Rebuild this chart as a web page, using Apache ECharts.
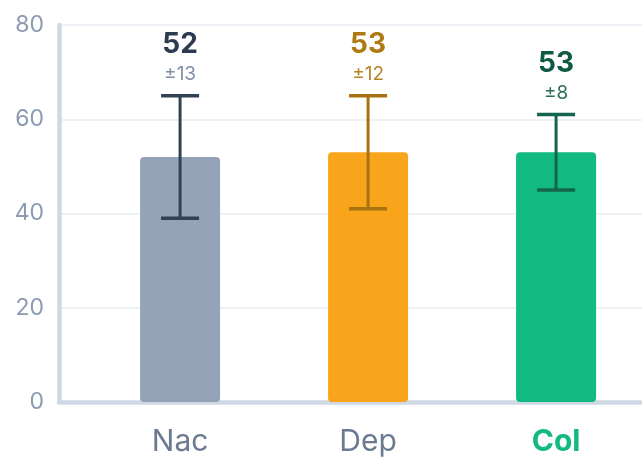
<!DOCTYPE html>
<html><head><meta charset="utf-8">
<script src="https://cdn.jsdelivr.net/npm/echarts@6/dist/echarts.min.js"></script>
<style>html,body{margin:0;padding:0;background:#fff}#c{width:642px;height:459px}</style>
</head><body><div id="c"></div>
<script>
const categories = ['Nac', 'Dep', 'Col'];
const means = [52, 53, 53];
const sds = [13, 12, 8];
const yTicks = [0, 20, 40, 60, 80];
const barColors = ['#94a3b8', '#f9a51b', '#12b981'];
const errColors = ['#334155', '#a8720f', '#13664c'];
const valueColors = ['#2d3a4f', '#b07a12', '#0f5a44'];
const sdColors = ['#7f8fa6', '#b88424', '#2c6d58'];
const FONT = 'Inter, "Noto Sans", sans-serif';

const chart = echarts.init(document.getElementById('c'));
chart.setOption({
  animation: false,
  backgroundColor: '#fff',
  grid: { left: 59, right: 0, top: 25, bottom: 57 },
  xAxis: {
    type: 'value', min: -0.644, max: 2.457,
    axisLine: { show: true, onZero: false, lineStyle: { color: '#cfd9e5', width: 4.5 } },
    axisTick: { show: false },
    splitLine: { show: false },
    axisLabel: {
      customValues: categories.map((c, i) => i),
      margin: 25,
      formatter: v => {
        const n = categories[Math.round(v)];
        return n === 'Col' ? '{hl|' + n + '}' : '{n|' + n + '}';
      },
      rich: {
        n: { fontFamily: FONT, fontSize: 30, color: '#6b7a90' },
        hl: { fontFamily: FONT, fontSize: 30, fontWeight: 'bold', color: '#12b981' }
      }
    }
  },
  yAxis: {
    type: 'value', min: yTicks[0], max: yTicks[yTicks.length - 1], interval: 20,
    axisLine: { show: true, onZero: false, lineStyle: { color: '#cfd9e5', width: 4.5 } },
    axisTick: { show: false },
    splitLine: { show: true, lineStyle: { color: '#eef2f7', width: 2 } },
    axisLabel: { fontFamily: FONT, fontSize: 23, color: '#8a9bb2', margin: 15 }
  },
  series: [
    {
      type: 'bar', barWidth: 80,
      data: means.map((m, i) => ({ value: [i, m], itemStyle: { color: barColors[i], borderRadius: 4 } }))
    },
    {
      type: 'custom', z: 5,
      encode: { x: 0, y: 1 },
      data: means.map((m, i) => [i, m, sds[i]]),
      renderItem: (params, api) => {
        const i = api.value(0), m = api.value(1), sd = api.value(2);
        const top = api.coord([i, m + sd]);
        const bot = api.coord([i, m - sd]);
        const c = errColors[i], hw = 19;
        return {
          type: 'group', children: [
            { type: 'line', shape: { x1: top[0], y1: top[1], x2: bot[0], y2: bot[1] }, style: { stroke: c, lineWidth: 3 } },
            { type: 'line', shape: { x1: top[0] - hw, y1: top[1], x2: top[0] + hw, y2: top[1] }, style: { stroke: c, lineWidth: 3.5 } },
            { type: 'line', shape: { x1: bot[0] - hw, y1: bot[1], x2: bot[0] + hw, y2: bot[1] }, style: { stroke: c, lineWidth: 3.5 } },
            { type: 'text', x: top[0], y: top[1] - 51, style: { text: String(m), fill: valueColors[i], font: 'bold 28px ' + FONT, align: 'center', verticalAlign: 'middle' } },
            { type: 'text', x: top[0], y: top[1] - 21, style: { text: '±' + sd, fill: sdColors[i], font: '19px ' + FONT, align: 'center', verticalAlign: 'middle' } }
          ]
        };
      }
    }
  ]
});
</script></body></html>
